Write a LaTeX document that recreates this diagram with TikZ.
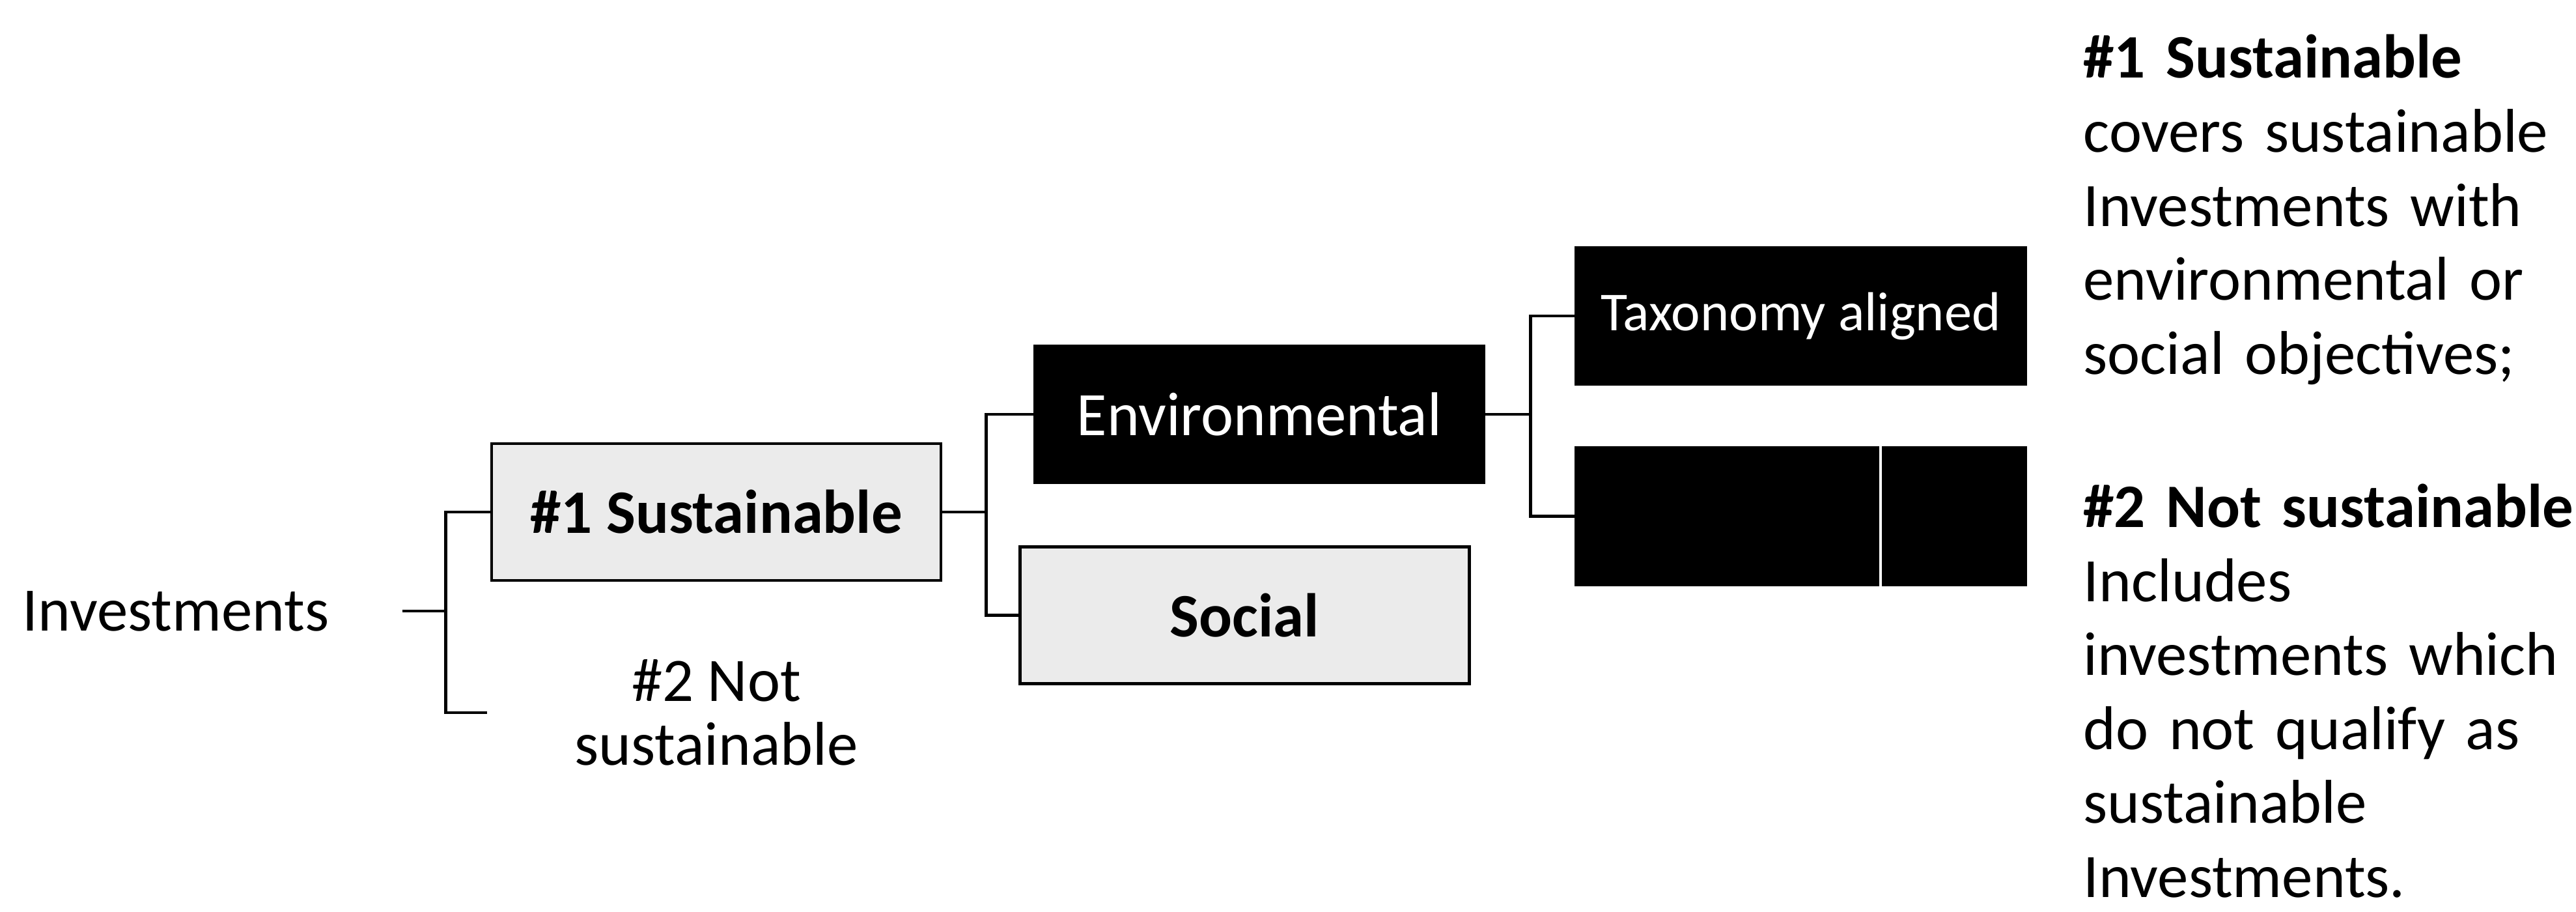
\documentclass[tikz,border=0pt]{standalone}
\usepackage{fontspec}
\setmainfont{Carlito}
\usetikzlibrary{positioning}

\begin{document}
\begin{tikzpicture}[
        node distance=1cm,
        box/.style={rectangle, draw, line width=1.3pt, minimum width=6.9cm, minimum height=2.1cm, align=center, fill=black!8, font=\fontsize{27}{33}\selectfont},
        darkbox/.style={box, fill=black, text=white},
        lbl/.style={inner sep=0pt, align=center, font=\fontsize{27}{28}\selectfont},
        link/.style={line width=1.3pt}
    ]
    \useasboundingbox (0,0) rectangle (39.56,14);

    % Root
    \node[lbl] (inv) at (2.70,4.62) {Investments};

    % First level
    \node[box] (sus) at (11.00,6.14) {\textbf{\#1 Sustainable}};
    \node[lbl] (notsus) at (11.00,3.06) {\#2 Not\\sustainable};
    \coordinate[left=1.34cm of notsus] (nsend);

    % Second level
    \node[darkbox] (env) at (19.34,7.64) {Environmental};
    \node[box, below=0.94cm of env, xshift=-0.225cm] (soc) {\textbf{Social}};

    % Third level
    \node[darkbox, font=\fontsize{24}{29}\selectfont] (tax) at (27.655,9.15) {Taxonomy aligned};
    \node[darkbox, below=0.93cm of tax] (oth) {};
    \draw[white, line width=0.9pt] ([xshift=1.225cm]oth.north) -- ([xshift=1.225cm]oth.south);

    % Notes
    \node[anchor=base west, inner sep=0pt, text width=8cm, align=left, font=\fontsize{27}{32.3}\selectfont] (notes) at (31.99,12.80) {%
        \textbf{\#1 Sustainable}\\
        covers sustainable\\
        Investments with\\
        environmental or\\
        social objectives;\\[1.22cm]
        \textbf{\#2 Not sustainable}\\
        Includes\\
        investments which\\
        do not qualify as\\
        sustainable\\
        Investments.};

    % Connections
    \draw[link] ([xshift=1.12cm]inv.east) -- ++(0.67,0) coordinate (j1);
    \draw[link] (sus.west) -| (j1) |- (nsend);
    \draw[link] (sus.east) -- ++(0.67,0) coordinate (j2);
    \draw[link] (env.west) -| (j2) |- (soc.west);
    \draw[link] (env.east) -- ++(0.69,0) coordinate (j3);
    \draw[link] (tax.west) -| (j3) |- (oth.west);

\end{tikzpicture}
\end{document}
